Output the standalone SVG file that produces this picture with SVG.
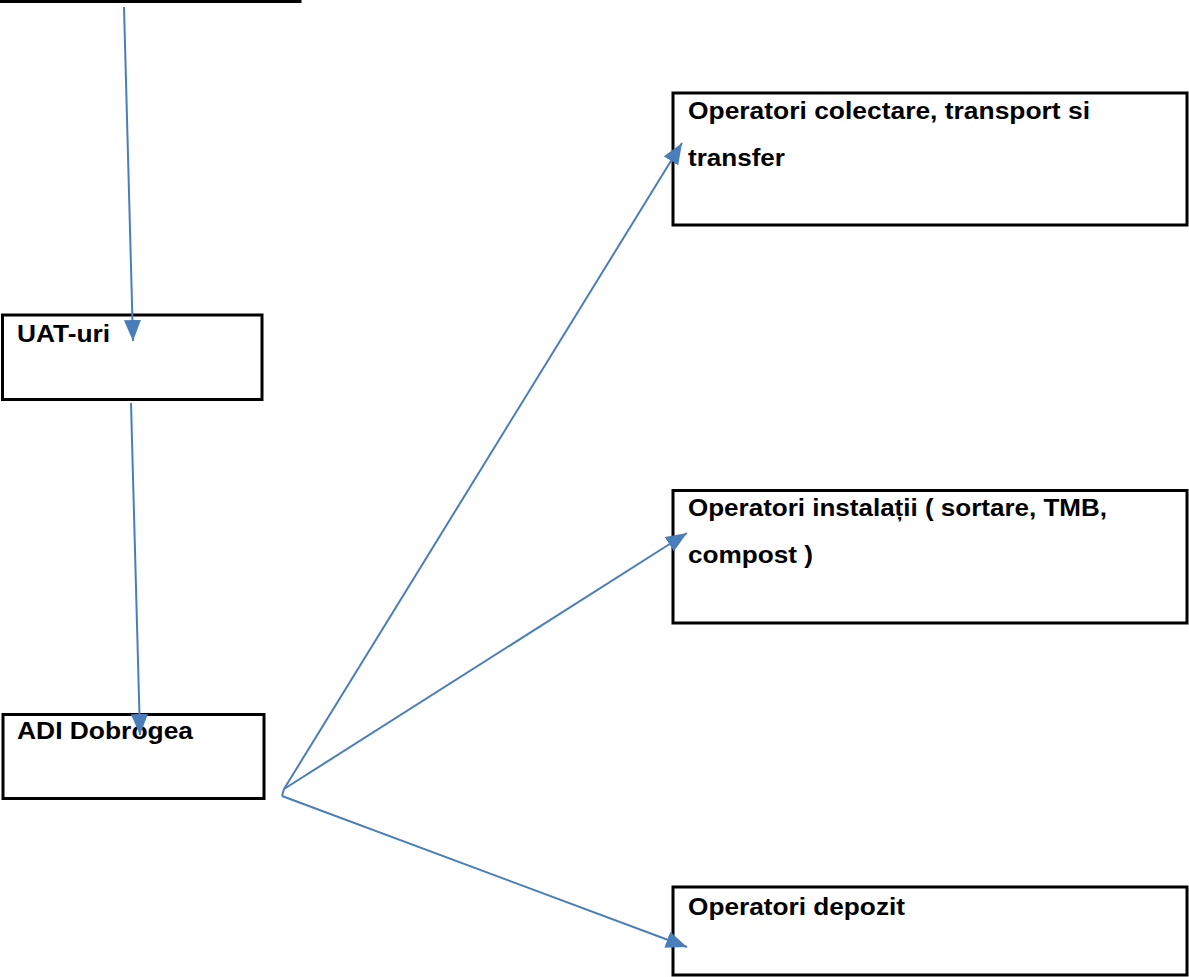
<svg xmlns="http://www.w3.org/2000/svg" width="1189" height="977" viewBox="0 0 1189 977">
<style>
.box{fill:#fff;stroke:#000;stroke-width:3}
.lbl{font-family:"Liberation Sans",Arial,sans-serif;font-weight:bold;font-size:23px;fill:#000}
.ln{fill:none;stroke:#4a7ebb;stroke-width:2}
.con{marker-end:url(#arr)}
</style>
<defs>
<marker id="arr" markerUnits="userSpaceOnUse" markerWidth="21" markerHeight="17" refX="21" refY="8.5" orient="auto" viewBox="0 0 21 17">
<path d="M0,0 L21,8.5 L0,17 z" fill="#4a7ebb"/>
</marker>
</defs>
<rect width="1189" height="977" fill="#fff"/>
<g id="node-top"><rect class="box" x="-10" y="-60" width="310" height="61.5"/></g>
<g id="node-uat"><rect class="box" x="2.5" y="315" width="259.5" height="84.5"/><text class="lbl" x="17" y="342" textLength="93" lengthAdjust="spacingAndGlyphs">UAT-uri</text></g>
<g id="node-adi"><rect class="box" x="3" y="714.5" width="261" height="84"/><text class="lbl" x="17" y="739" textLength="176" lengthAdjust="spacingAndGlyphs">ADI Dobrogea</text></g>
<g id="node-colectare"><rect class="box" x="673" y="93" width="514" height="132"/><text class="lbl" x="688" y="119" textLength="402" lengthAdjust="spacingAndGlyphs">Operatori colectare, transport si</text><text class="lbl" x="688" y="166" textLength="97" lengthAdjust="spacingAndGlyphs">transfer</text></g>
<g id="node-instalatii"><rect class="box" x="673" y="490.5" width="514" height="132.5"/><text class="lbl" x="688" y="516" textLength="419" lengthAdjust="spacingAndGlyphs">Operatori instalații ( sortare, TMB,</text><text class="lbl" x="688" y="563" textLength="125" lengthAdjust="spacingAndGlyphs">compost )</text></g>
<g id="node-depozit"><rect class="box" x="673" y="887" width="514" height="88"/><text class="lbl" x="688" y="915" textLength="217" lengthAdjust="spacingAndGlyphs">Operatori depozit</text></g>
<g id="connectors">
<path class="ln con" d="M124,7 L133,341"/>
<path class="ln con" d="M131,403 L140,735"/>
<path class="ln con" d="M284,789 L682,143"/>
<path class="ln" d="M284,789 L282,796"/>
<path class="ln con" d="M284,789 L687,533"/>
<path class="ln con" d="M282,796 L687,947"/>
</g>
</svg>
